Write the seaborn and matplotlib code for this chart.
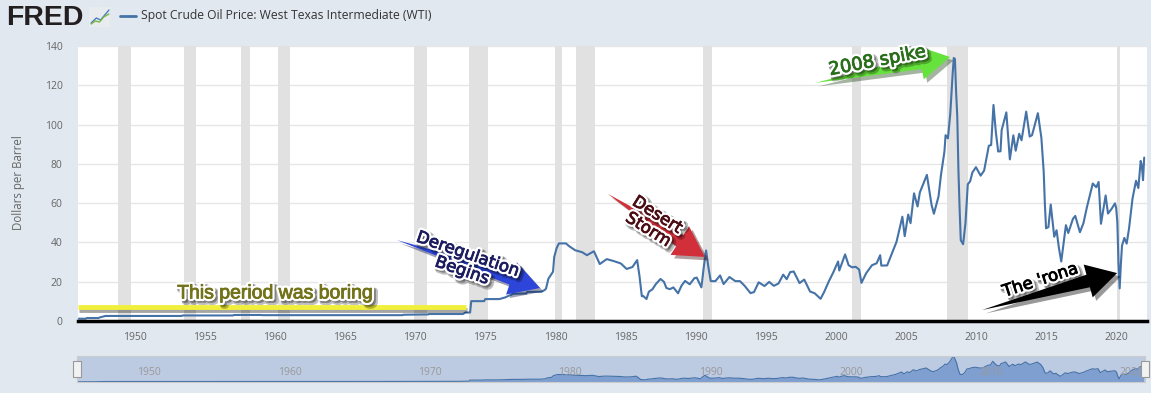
import numpy as np
import pandas as pd
import seaborn as sns
import matplotlib.pyplot as plt
import matplotlib.patheffects as pe
from matplotlib.patches import Rectangle, Polygon

# monthly WTI spot price (dollars per barrel)
dates = ["1946-01", "1946-07", "1946-08", "1947-06", "1947-07", "1947-12", "1953-05", "1953-06",
         "1957-01", "1957-02", "1959-01", "1959-02", "1969-02", "1969-03", "1970-12", "1971-01",
         "1973-06", "1973-08", "1973-12", "1974-01", "1974-12", "1975-01", "1976-01", "1976-06",
         "1977-01", "1977-12", "1978-01", "1979-01", "1979-04", "1979-05", "1979-07", "1979-11",
         "1979-12", "1980-02", "1980-04", "1980-10", "1981-01", "1981-06", "1981-12", "1982-04",
         "1982-10", "1983-03", "1983-09", "1984-03", "1984-09", "1985-02", "1985-07", "1985-11",
         "1986-01", "1986-03", "1986-04", "1986-07", "1986-09", "1986-12", "1987-03", "1987-07",
         "1987-10", "1987-12", "1988-03", "1988-06", "1988-10", "1989-01", "1989-04", "1989-08",
         "1989-12", "1990-02", "1990-06", "1990-08", "1990-10", "1990-12", "1991-02", "1991-06",
         "1991-10", "1992-01", "1992-06", "1992-11", "1993-03", "1993-07", "1993-12", "1994-03",
         "1994-07", "1994-12", "1995-04", "1995-08", "1995-12", "1996-04", "1996-07", "1996-10",
         "1997-01", "1997-06", "1997-10", "1998-03", "1998-07", "1998-12", "1999-03", "1999-07",
         "1999-11", "2000-03", "2000-04", "2000-09", "2000-12", "2001-03", "2001-06", "2001-09",
         "2001-11", "2002-03", "2002-08", "2002-12", "2003-03", "2003-04", "2003-09", "2004-01",
         "2004-05", "2004-10", "2004-12", "2005-03", "2005-05", "2005-08", "2005-11", "2006-01",
         "2006-07", "2006-11", "2007-01", "2007-05", "2007-07", "2007-10", "2007-11", "2008-01",
         "2008-03", "2008-05", "2008-06", "2008-07", "2008-08", "2008-09", "2008-10", "2008-11",
         "2008-12", "2009-02", "2009-04", "2009-06", "2009-08", "2009-10", "2010-01", "2010-05",
         "2010-08", "2010-12", "2011-02", "2011-04", "2011-06", "2011-08", "2011-10", "2011-11",
         "2012-03", "2012-06", "2012-09", "2012-11", "2013-02", "2013-04", "2013-08", "2013-11",
         "2014-01", "2014-06", "2014-09", "2014-11", "2014-12", "2015-01", "2015-03", "2015-05",
         "2015-08", "2015-10", "2015-12", "2016-02", "2016-06", "2016-08", "2016-12", "2017-02",
         "2017-06", "2017-09", "2017-12", "2018-05", "2018-08", "2018-10", "2018-12", "2019-04",
         "2019-06", "2019-09", "2019-12", "2020-01", "2020-02", "2020-03", "2020-04", "2020-05",
         "2020-06", "2020-08", "2020-10", "2020-12", "2021-03", "2021-06", "2021-08", "2021-10",
         "2021-11", "2021-12", "2022-01"]
prices = [1.17, 1.17, 1.52, 1.52, 1.82, 2.57, 2.57, 2.82,
          2.82, 3.07, 3.07, 2.97, 2.97, 3.18, 3.35, 3.56,
          3.56, 4.31, 4.31, 10.11, 10.11, 11.16, 11.16, 12.0,
          13.9, 14.0, 14.85, 14.85, 15.85, 16.5, 21.5, 25.1,
          32.5, 37.0, 39.5, 39.5, 38.0, 36.0, 35.0, 33.5,
          35.5, 29.0, 31.5, 30.5, 29.3, 26.5, 27.5, 31.0,
          22.9, 12.6, 12.8, 11.2, 14.9, 16.1, 18.8, 21.4,
          19.9, 16.8, 16.2, 17.1, 14.1, 18.0, 20.4, 18.7,
          21.8, 22.1, 17.1, 27.3, 35.9, 27.3, 20.3, 20.3,
          23.2, 18.8, 22.4, 20.3, 20.3, 17.9, 14.2, 14.7,
          19.7, 17.8, 19.9, 17.9, 19.1, 23.6, 21.3, 24.9,
          25.2, 19.3, 21.1, 15.0, 14.1, 11.3, 14.7, 20.1,
          24.9, 30.3, 25.7, 33.9, 28.4, 27.3, 27.6, 26.2,
          19.4, 24.3, 28.4, 29.4, 33.5, 28.2, 28.3, 34.3,
          40.3, 53.1, 43.2, 54.2, 49.8, 65.0, 58.3, 65.5,
          74.4, 59.1, 54.6, 63.5, 74.1, 86.2, 94.6, 93.0,
          105.4, 125.4, 133.9, 133.4, 116.7, 104.1, 76.6, 57.3,
          41.1, 39.1, 49.7, 69.6, 71.1, 75.7, 78.3, 74.0,
          76.6, 89.2, 89.6, 110.0, 96.3, 86.3, 86.4, 97.2,
          106.2, 82.3, 94.5, 86.7, 95.3, 92.0, 106.6, 93.9,
          94.6, 105.8, 93.2, 75.8, 59.3, 47.2, 47.8, 59.3,
          42.9, 46.2, 37.2, 30.3, 48.8, 44.8, 52.0, 53.5,
          45.2, 49.8, 58.0, 70.0, 68.1, 70.8, 49.5, 63.9,
          54.7, 57.0, 59.9, 57.5, 50.5, 29.2, 16.6, 28.6,
          38.3, 42.3, 39.4, 47.0, 62.3, 71.4, 67.7, 81.5,
          79.2, 71.7, 83.2]

# NBER recessions
rec_start = ["1948-11", "1953-07", "1957-08", "1960-04", "1969-12", "1973-11", "1980-01",
             "1981-07", "1990-07", "2001-03", "2007-12", "2020-02"]
rec_end = ["1949-10", "1954-05", "1958-04", "1961-02", "1970-11", "1975-03", "1980-07",
           "1982-11", "1991-03", "2001-11", "2009-06", "2020-04"]

xticks = list(range(1950, 2021, 5))
nav_ticks = list(range(1950, 2021, 10))
series_name = "Spot Crude Oil Price: West Texas Intermediate (WTI)"


def dec_year(s):
    y, m = s.split("-")
    return int(y) + (int(m) - 1) / 12


df = pd.DataFrame({"year": [dec_year(d) for d in dates], "price": prices})

sns.set_style("white")
plt.rcParams["font.family"] = ["Open Sans", "DejaVu Sans"]

BG = "#e1e8f0"
LINE = "#4572a7"
W, H = 1151, 393
fig = plt.figure(figsize=(W / 100, H / 100), dpi=100, facecolor=BG)
ax = fig.add_axes([78 / W, 1 - 321 / H, (1147 - 78) / W, (321 - 46) / H])
ax.set_facecolor("white")

for s, e in zip(rec_start, rec_end):
    ax.axvspan(dec_year(s), dec_year(e), color="#e1e1e1", lw=0, zorder=0.6)

sns.lineplot(data=df, x="year", y="price", ax=ax, color=LINE, lw=1.5, zorder=3)

ax.set_xlim(1945.95, 2022.2)
ax.set_ylim(0, 140)
ax.set_yticks(range(0, 141, 20))
ax.set_xticks(xticks)
ax.grid(axis="y", color="#e6e6e6", lw=1, zorder=0.4)
ax.set_axisbelow(True)
for sp in ["top", "left", "right"]:
    ax.spines[sp].set_visible(False)
ax.spines["bottom"].set_color("black")
ax.spines["bottom"].set_linewidth(2.5)
ax.spines["bottom"].set_zorder(5)
ax.tick_params(axis="y", length=0, pad=11, labelsize=7.5, labelcolor="#666666")
ax.tick_params(axis="x", length=7, width=1, color="#ccd6eb", pad=1, labelsize=7.5, labelcolor="#666666")
ax.set_xlabel("")
ax.set_ylabel("")
fig.text(19 / W, 1 - 183 / H, "Dollars per Barrel", rotation=90, ha="center", va="center",
         fontsize=8.3, color="#666666")

# annotations
shadow_arrow = [pe.SimplePatchShadow(offset=(2.5, -2.5), alpha=0.4), pe.Normal()]

ax.plot([1945.95, 1973.6], [7.0, 7.0], color="#f0f03c", lw=3.5, solid_capstyle="butt", zorder=4,
        path_effects=[pe.SimpleLineShadow(offset=(1, -2), shadow_color="black", alpha=0.35),
                      pe.Normal()])


def arrow(tail, head, color, hl=30, hw=34, tw=13):
    # tapered arrow built in pixel space so the head keeps its shape
    t = ax.transData.transform(tail)
    p = ax.transData.transform(head)
    u = (p - t) / np.hypot(*(p - t))
    n = np.array([-u[1], u[0]])
    b = p - u * hl
    pts = [t, b + n * tw / 2, b + n * hw / 2, p, b - n * hw / 2, b - n * tw / 2]
    pts = ax.transData.inverted().transform(np.array(pts))
    ax.add_patch(Polygon(pts, closed=True, facecolor=color, edgecolor="none", zorder=6,
                         path_effects=shadow_arrow))


def label(x, y, s, color, rot, fam="Liberation Sans", size=14):
    effects = [pe.Stroke(linewidth=5, foreground="black", alpha=0.25, offset=(2.2, -2.2)),
               pe.Stroke(linewidth=3.5, foreground="black", alpha=0.3, offset=(1.5, -1.5)),
               pe.Stroke(linewidth=3.8, foreground="white"),
               pe.Stroke(linewidth=0.6, foreground=color), pe.Normal()]
    ax.text(x, y, s, color=color, rotation=rot, fontsize=size, ha="center", va="center",
            family=fam, linespacing=0.95, multialignment="center",
            rotation_mode="anchor", zorder=7, path_effects=effects)


label(1960.06, 13.8, "This period was boring", "#727219", 0)
arrow((1968.7, 41.2), (1978.9, 16.8), "#2d45d8")
label(1973.55, 30.0, "Deregulation\nBegins", "#1c1c5e", -19, "DejaVu Sans", 12)
arrow((1983.75, 64.7), (1990.67, 32.6), "#d12f3a")
label(1986.96, 50.4, "Desert\nStorm", "#4a0d14", -32, "DejaVu Sans", 12)
arrow((1998.52, 121.2), (2008.15, 134.4), "#66e23c")
label(2002.95, 132.4, "2008 spike", "#2a6e1c", 11, "DejaVu Sans", 13)
arrow((2010.44, 5.6), (2020.07, 24.4), "black")
label(2014.58, 20.9, "The 'rona", "black", 18, "DejaVu Sans", 12)

# header: FRED logo + legend
fig.text(6 / W, 1 - 18 / H, "FRED", fontsize=20.5, fontweight="bold", family="Liberation Sans",
         color="#231f20", va="center", ha="left")
icon = fig.add_axes([89 / W, 1 - 27 / H, 21 / W, 20 / H])
icon.set_facecolor("#e8ecef")
icon.plot([0.1, 0.35, 0.55, 0.75, 0.95], [0.2, 0.45, 0.35, 0.6, 0.85], color="#4a7fc0", lw=1)
icon.plot([0.1, 0.3, 0.5, 0.7, 0.95], [0.15, 0.3, 0.25, 0.5, 0.65], color="#7ab648", lw=1)
icon.set_xlim(0, 1)
icon.set_ylim(0, 1)
icon.set_xticks([])
icon.set_yticks([])
for sp in icon.spines.values():
    sp.set_visible(False)
fig.add_artist(plt.Line2D([120 / W, 136 / W], [1 - 16 / H, 1 - 16 / H], color=LINE, lw=2))
fig.text(141 / W, 1 - 16 / H, series_name, fontsize=8.7, color="#333333", va="center", ha="left")

# navigator
nav = fig.add_axes([77 / W, 1 - 382 / H, 1068 / W, 26 / H])
nav.set_facecolor("#bccae2")
nav.fill_between(df["year"], df["price"], color="#7f9fd0", lw=0)
sns.lineplot(data=df, x="year", y="price", ax=nav, color=LINE, lw=0.8)
nav.set_xlim(1946.0, 2022.1)
nav.set_ylim(0, 138)
nav.set_xticks([])
nav.set_yticks([])
nav.set_xlabel("")
nav.set_ylabel("")
for sp in nav.spines.values():
    sp.set_color("#cccccc")
    sp.set_linewidth(0.8)
for t in nav_ticks:
    nav.text(t + 0.3, 0.35, str(t), transform=nav.get_xaxis_transform(), fontsize=7.5,
             color="#999999", ha="left", va="center")
for xa in [0.0, 1.0]:
    nav.add_patch(Rectangle((xa - 0.0035, 0.2), 0.007, 0.6, transform=nav.transAxes,
                            facecolor="#f2f2f2", edgecolor="#999999", lw=0.8, clip_on=False, zorder=5))

fig.savefig("out.png", dpi=100, facecolor=BG)
